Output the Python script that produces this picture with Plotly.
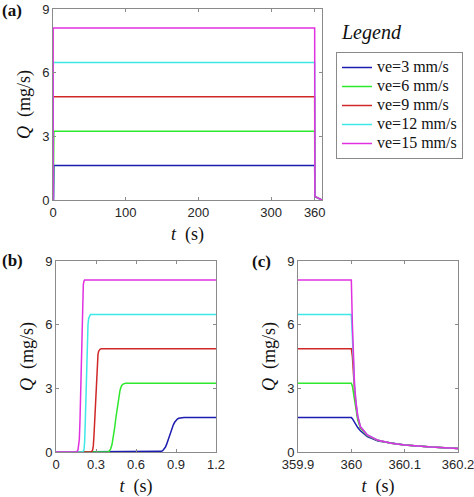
import plotly.graph_objects as go

# ---------------- data ----------------
series_names = ["ve=3 mm/s", "ve=6 mm/s", "ve=9 mm/s", "ve=12 mm/s", "ve=15 mm/s"]
series_colors = ["#1c1cb0", "#2ee82e", "#d02828", "#3ee8e8", "#e030e0"]

# start-up (panel b)
rise_t_v3 = [0, 0.77, 0.79, 0.80, 0.81, 0.82, 0.83, 0.84, 0.85, 0.86, 0.87, 0.88, 0.89, 0.90, 0.91, 0.92, 0.94, 0.96, 1.2]
rise_q_v3 = [0, 0, 0.03, 0.06, 0.12, 0.22, 0.37, 0.56, 0.76, 0.95, 1.13, 1.28, 1.40, 1.49, 1.55, 1.59, 1.61, 1.62, 1.62]
rise_t_v6 = [0, 0.39, 0.40, 0.41, 0.42, 0.43, 0.44, 0.45, 0.46, 0.47, 0.48, 0.49, 0.50, 0.52, 1.2]
rise_q_v6 = [0, 0, 0.05, 0.15, 0.35, 0.70, 1.15, 1.65, 2.15, 2.60, 2.90, 3.10, 3.19, 3.24, 3.24]
rise_t_v9 = [0, 0.265, 0.275, 0.28, 0.285, 0.29, 0.295, 0.30, 0.305, 0.31, 0.315, 0.32, 0.33, 0.34, 1.2]
rise_q_v9 = [0, 0, 0.10, 0.30, 0.80, 1.50, 2.30, 3.10, 3.80, 4.30, 4.60, 4.75, 4.84, 4.86, 4.86]
rise_t_v12 = [0, 0.20, 0.21, 0.215, 0.22, 0.225, 0.23, 0.235, 0.24, 0.245, 0.25, 0.258, 1.2]
rise_q_v12 = [0, 0, 0.10, 0.50, 1.50, 2.90, 4.20, 5.30, 6.00, 6.30, 6.42, 6.48, 6.48]
rise_t_v15 = [0, 0.155, 0.165, 0.175, 0.18, 0.185, 0.19, 0.195, 0.20, 0.205, 0.21, 0.215, 1.2]
rise_q_v15 = [0, 0, 0.10, 0.60, 1.50, 3.00, 4.80, 6.40, 7.40, 7.90, 8.05, 8.10, 8.10]

# shut-down (panel c)
fall_t = [359.9, 360.0, 360.002, 360.004, 360.006, 360.0085, 360.012, 360.017, 360.03, 360.05, 360.075, 360.1, 360.15, 360.2]
fall_q_v3 = [1.62, 1.62, 1.57, 1.48, 1.38, 1.27, 1.15, 1.00, 0.72, 0.52, 0.41, 0.33, 0.23, 0.16]
fall_q_v6 = [3.24, 3.24, 3.10, 2.80, 2.45, 2.00, 1.50, 1.12, 0.77, 0.54, 0.41, 0.33, 0.23, 0.17]
fall_q_v9 = [4.86, 4.86, 4.50, 3.60, 2.90, 2.25, 1.63, 1.17, 0.79, 0.55, 0.41, 0.33, 0.23, 0.17]
fall_q_v12 = [6.48, 6.48, 5.40, 4.00, 3.10, 2.35, 1.68, 1.19, 0.80, 0.55, 0.41, 0.33, 0.23, 0.17]
fall_q_v15 = [8.10, 8.10, 6.00, 4.20, 3.20, 2.40, 1.70, 1.20, 0.80, 0.55, 0.41, 0.33, 0.23, 0.17]

tail_t = [370]
tail_q = [0.0]

rise_t = [rise_t_v3, rise_t_v6, rise_t_v9, rise_t_v12, rise_t_v15]
rise_q = [rise_q_v3, rise_q_v6, rise_q_v9, rise_q_v12, rise_q_v15]
fall_q = [fall_q_v3, fall_q_v6, fall_q_v9, fall_q_v12, fall_q_v15]

y_ticks = [0, 3, 6, 9]
xa_ticks = [0, 100, 200, 300, 360]
xb_ticks = [0, 0.3, 0.6, 0.9, 1.2]
xb_text = ["0", "0.3", "0.6", "0.9", "1.2"]
xc_ticks = [359.9, 360.0, 360.1, 360.2]
xc_text = ["359.9", "360", "360.1", "360.2"]

# ---------------- figure ----------------
W, H = 474, 497
def px_x(a, b):
    return [a / W, b / W]
def px_y(top, bot):
    return [1 - bot / H, 1 - top / H]
def fx(a):
    return a / W
def fy(t):
    return 1 - t / H

fig = go.Figure()

for i in range(5):
    ta = rise_t[i] + fall_t + tail_t
    qa = rise_q[i] + fall_q[i] + tail_q
    fig.add_trace(go.Scatter(x=ta, y=qa, mode="lines",
                             name='<span style="font-size:16px">' + series_names[i] + "</span>",
                             line=dict(color=series_colors[i], width=1.5),
                             xaxis="x", yaxis="y", showlegend=True))
for i in range(5):
    fig.add_trace(go.Scatter(x=rise_t[i], y=rise_q[i], mode="lines", name=series_names[i],
                             line=dict(color=series_colors[i], width=1.5),
                             xaxis="x2", yaxis="y2", showlegend=False))
for i in range(5):
    fig.add_trace(go.Scatter(x=fall_t, y=fall_q[i], mode="lines", name=series_names[i],
                             line=dict(color=series_colors[i], width=1.5),
                             xaxis="x3", yaxis="y3", showlegend=False))

tickfont = dict(family="Liberation Sans, Arial", size=13, color="#262626")
titlefont = dict(family="Liberation Serif, Times New Roman", size=18, color="#111111")
axcommon = dict(showgrid=False, zeroline=False, showline=True, linecolor="#8a8a8a",
                linewidth=1, mirror="ticks", ticks="inside", ticklen=3,
                tickcolor="#8a8a8a", tickfont=tickfont, automargin=False,
                ticklabeloverflow="allow")

fig.update_layout(
    width=W, height=H, margin=dict(l=0, r=0, t=0, b=0, autoexpand=False),
    paper_bgcolor="white", plot_bgcolor="white",
    xaxis=dict(domain=px_x(53, 322), range=[0, 370], tickvals=xa_ticks,
               title=dict(text="<i>t</i>  (s)", font=titlefont, standoff=8), anchor="y", **axcommon),
    yaxis=dict(domain=px_y(9, 200), range=[0, 9], tickvals=y_ticks,
               title=dict(text="<i>Q</i>  (mg/s)", font=titlefont, standoff=6), anchor="x", **axcommon),
    xaxis2=dict(domain=px_x(56, 216), range=[0, 1.2], tickvals=xb_ticks, ticktext=xb_text,
                title=dict(text="<i>t</i>  (s)", font=titlefont, standoff=8), anchor="y2", **axcommon),
    yaxis2=dict(domain=px_y(261, 452), range=[0, 9], tickvals=y_ticks,
                title=dict(text="<i>Q</i>  (mg/s)", font=titlefont, standoff=6), anchor="x2", **axcommon),
    xaxis3=dict(domain=px_x(298, 458), range=[359.9, 360.2], tickvals=xc_ticks, ticktext=xc_text,
                title=dict(text="<i>t</i>  (s)", font=titlefont, standoff=8), anchor="y3", **axcommon),
    yaxis3=dict(domain=px_y(261, 452), range=[0, 9], tickvals=y_ticks,
                title=dict(text="<i>Q</i>  (mg/s)", font=titlefont, standoff=6), anchor="x3", **axcommon),
    legend=dict(x=fx(336), y=fy(52), xanchor="left", yanchor="top",
                bordercolor="#8a8a8a", borderwidth=1, bgcolor="white",
                font=dict(family="Liberation Serif, Times New Roman", size=12, color="#111111"),
                itemwidth=30, tracegroupgap=0),
    showlegend=True,
)

labelfont = dict(family="Liberation Serif, Times New Roman", size=17, color="#111111")
annots = [
    dict(text="<b>(a)</b>", x=fx(0), y=fy(10), xanchor="left", yanchor="middle", font=labelfont),
    dict(text="<b>(b)</b>", x=fx(0), y=fy(260), xanchor="left", yanchor="middle", font=labelfont),
    dict(text="<b>(c)</b>", x=fx(250), y=fy(261), xanchor="left", yanchor="middle", font=labelfont),
    dict(text="<i>Legend</i>", x=fx(339), y=fy(33), xanchor="left", yanchor="middle",
         font=dict(family="Liberation Serif, Times New Roman", size=20, color="#111111")),
]
for a in annots:
    fig.add_annotation(xref="paper", yref="paper", showarrow=False, **a)

fig.write_html("out.html", config={"displayModeBar": False},
               post_script="document.body.style.margin='0px';document.body.style.padding='0px';")
